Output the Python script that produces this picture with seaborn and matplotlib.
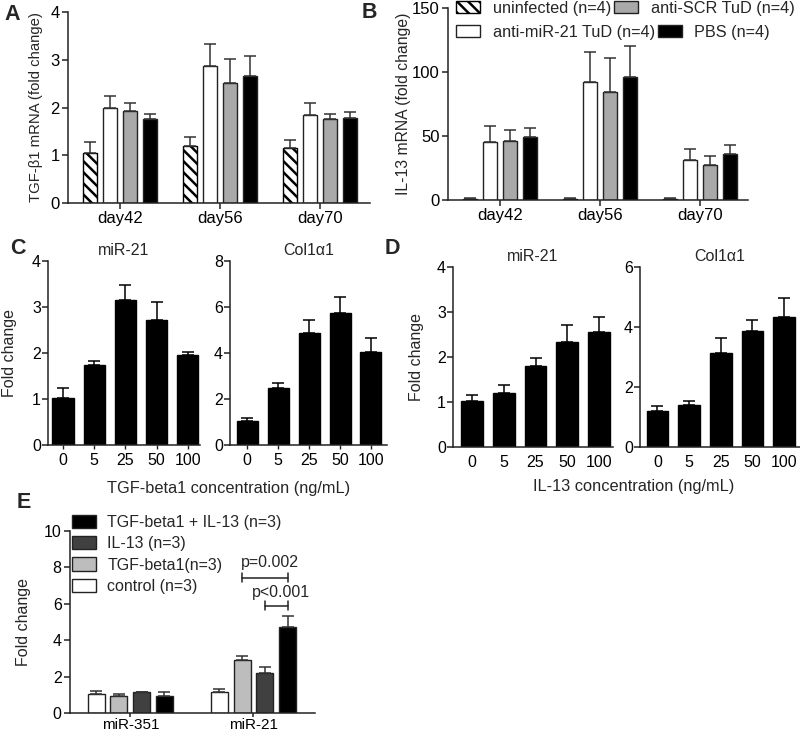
import numpy as np
import pandas as pd
import seaborn as sns
import matplotlib
matplotlib.use("Agg")
import matplotlib.pyplot as plt
from matplotlib.patches import Patch
from matplotlib.container import BarContainer

# ---- data ----
days = ["day42", "day56", "day70"]
mouse_groups = ["uninfected (n=4)", "anti-miR-21 TuD (n=4)", "anti-SCR TuD (n=4)", "PBS (n=4)"]
mouse_colors = ["white", "white", "#a9a9a9", "black"]

# A: TGF-beta1 mRNA, one row per group (day42, day56, day70)
tgf_mean = [[1.05, 1.20, 1.15], [2.00, 2.87, 1.85], [1.92, 2.52, 1.75], [1.75, 2.65, 1.78]]
tgf_err = [[0.22, 0.19, 0.17], [0.25, 0.45, 0.25], [0.18, 0.50, 0.11], [0.11, 0.42, 0.12]]

# B: IL-13 mRNA
il13_mean = [[1.0, 1.0, 1.0], [45, 92, 31], [46, 84, 27], [49, 96, 36]]
il13_err = [[0.4, 0.4, 0.4], [13, 24, 9], [9, 27, 7], [7, 24, 7]]

# C / D: dose response
conc = ["0", "5", "25", "50", "100"]
c_mir21 = [1.03, 1.75, 3.15, 2.72, 1.95]
c_mir21_err = [0.20, 0.07, 0.32, 0.38, 0.08]
c_col1 = [1.05, 2.50, 4.85, 5.75, 4.05]
c_col1_err = [0.12, 0.20, 0.60, 0.68, 0.60]
d_mir21 = [1.03, 1.20, 1.80, 2.34, 2.55]
d_mir21_err = [0.13, 0.18, 0.17, 0.38, 0.33]
d_col1 = [1.20, 1.40, 3.12, 3.88, 4.32]
d_col1_err = [0.17, 0.15, 0.50, 0.35, 0.65]

# E
e_genes = ["miR-351", "miR-21"]
e_groups = ["control (n=3)", "TGF-beta1(n=3)", "IL-13 (n=3)", "TGF-beta1 + IL-13 (n=3)"]
e_colors = ["white", "#bdbdbd", "#404040", "black"]
e_mean = [[1.05, 1.15], [0.95, 2.90], [1.13, 2.20], [0.95, 4.72]]
e_err = [[0.18, 0.15], [0.10, 0.25], [0.05, 0.35], [0.18, 0.62]]

sns.set_style("ticks")
plt.rcParams["font.family"] = ["Liberation Sans", "DejaVu Sans"]
plt.rcParams["font.size"] = 11.5
plt.rcParams["hatch.linewidth"] = 1.8
plt.rcParams["axes.linewidth"] = 1.1
plt.rcParams["axes.edgecolor"] = "#222222"
plt.rcParams["xtick.color"] = "#222222"
plt.rcParams["ytick.color"] = "#222222"
plt.rcParams["xtick.labelcolor"] = "black"
plt.rcParams["ytick.labelcolor"] = "black"

fig = plt.figure(figsize=(8, 7.36), dpi=100)
W, H = 800, 736


def add_ax(left, right, bottom, top):
    return fig.add_axes([left / W, 1 - bottom / H, (right - left) / W, (bottom - top) / H])


def bar_groups(ax):
    # one BarContainer per hue level, bars sorted left to right
    return [sorted(c, key=lambda b: b.get_x()) for c in ax.containers if isinstance(c, BarContainer)]


def grouped(ax, cats, groups, colors, means, errs, width=0.8, gap=0.3, capsize=4):
    df = pd.DataFrame({
        "cat": [c for g in groups for c in cats],
        "grp": [g for g in groups for c in cats],
        "val": [v for row in means for v in row],
    })
    sns.barplot(data=df, x="cat", y="val", hue="grp", order=cats, hue_order=groups,
                palette=dict(zip(groups, colors)), saturation=1, width=width, gap=gap,
                edgecolor="#222222", linewidth=1, errorbar=None, legend=False, ax=ax)
    for bars, err in zip(bar_groups(ax), errs):
        xs = [b.get_x() + b.get_width() / 2 for b in bars]
        ys = [b.get_height() for b in bars]
        ax.errorbar(xs, ys, yerr=[np.zeros(len(err)), err], fmt="none", ecolor="#333333",
                    elinewidth=1.1, capsize=capsize, capthick=1.1, zorder=1)


def single(ax, vals, errs, ymax, step, title, xticks=True):
    sns.barplot(x=conc, y=vals, order=conc, color="black", saturation=1, width=0.68,
                edgecolor="black", errorbar=None, ax=ax)
    bars = bar_groups(ax)[0]
    xs = [b.get_x() + b.get_width() / 2 for b in bars]
    ax.errorbar(xs, vals, yerr=[np.zeros(len(errs)), errs], fmt="none", ecolor="black",
                elinewidth=1.1, capsize=4, capthick=1.1, zorder=1)
    ax.set_ylim(0, ymax)
    ax.set_yticks(np.arange(0, ymax + 0.01, step))
    ax.set_title(title, fontsize=11.5, pad=4)
    ax.set_xlabel("")
    ax.set_ylabel("")
    if xticks:
        ax.tick_params(axis="x", length=3, width=1, pad=3)
    else:
        ax.tick_params(axis="x", length=0, pad=6)
    ax.tick_params(axis="y", length=4, width=1.1, pad=1)
    ax.tick_params(labelsize=11.5)
    sns.despine(ax=ax)


# ---- A ----
axA = add_ax(68, 370, 203, 12)
grouped(axA, days, mouse_groups, mouse_colors, tgf_mean, tgf_err)
for b in bar_groups(axA)[0]:
    b.set_hatch("\\\\\\")
    b.set_edgecolor("black")
axA.set_xlim(-0.52, 2.5)
axA.set_ylim(0, 4)
axA.set_yticks([0, 1, 2, 3, 4])
axA.set_xlabel("")
axA.set_ylabel("TGF-\u03b21 mRNA (fold change)", fontsize=10.7)
axA.yaxis.set_label_coords(-0.083, 0.5)
axA.tick_params(length=4, width=1.1, pad=2, labelsize=12)
sns.despine(ax=axA)

# ---- B ----
axB = add_ax(448, 748, 200, 8)
grouped(axB, days, mouse_groups, mouse_colors, il13_mean, il13_err)
for b in bar_groups(axB)[0]:
    b.set_hatch("\\\\\\")
    b.set_edgecolor("black")
axB.set_xlim(-0.52, 2.48)
axB.set_ylim(0, 150)
axB.set_yticks([0, 50, 100, 150])
axB.set_xlabel("")
axB.set_ylabel("IL-13 mRNA (fold change)", fontsize=11.3)
axB.yaxis.set_label_coords(-0.123, 0.5)
axB.tick_params(length=4, width=1.1, pad=2, labelsize=12)
sns.despine(ax=axB)

handles = [Patch(facecolor=c, edgecolor="black" if i == 0 else "#222222",
                 hatch="\\\\\\" if i == 0 else None, linewidth=1)
           for i, c in enumerate(mouse_colors)]
leg_kw = dict(ncol=2, frameon=False, handlelength=1.45, handleheight=0.8, handletextpad=0.8,
              columnspacing=0.2, borderpad=0, borderaxespad=0, loc="center left",
              bbox_transform=fig.transFigure, fontsize=11.7)
leg1 = axB.legend([handles[0], handles[2]], [mouse_groups[0], mouse_groups[2]],
                  bbox_to_anchor=(456 / W, 1 - 8 / H), **leg_kw)
axB.add_artist(leg1)
axB.legend([handles[1], handles[3]], [mouse_groups[1], mouse_groups[3]],
           bbox_to_anchor=(456 / W, 1 - 32 / H), **leg_kw)

# ---- C ----
axC1 = add_ax(48, 200, 445, 261)
single(axC1, c_mir21, c_mir21_err, 4, 1, "miR-21")
axC1.set_xlim(-0.48, 4.39)
axC1.set_ylabel("Fold change", fontsize=11.5)
axC1.yaxis.set_label_coords(-0.204, 0.5)
axC2 = add_ax(230, 387, 445, 261)
single(axC2, c_col1, c_col1_err, 8, 2, "Col1\u03b11")
axC2.set_xlim(-0.56, 4.52)
fig.text(229 / W, 1 - 489 / H, "TGF-beta1 concentration (ng/mL)", ha="center", va="center", fontsize=11.8)

# ---- D ----
axD1 = add_ax(453, 613, 447, 267)
single(axD1, d_mir21, d_mir21_err, 4, 1, "miR-21", xticks=False)
axD1.set_xlim(-0.6, 4.44)
axD1.set_ylabel("Fold change", fontsize=11.5)
axD1.yaxis.set_label_coords(-0.18, 0.5)
axD2 = add_ax(640, 800, 447, 267)
single(axD2, d_col1, d_col1_err, 6, 2, "Col1\u03b11", xticks=False)
axD2.set_xlim(-0.55, 4.5)
fig.text(634 / W, 1 - 487 / H, "IL-13 concentration (ng/mL)", ha="center", va="center", fontsize=11.8)

# ---- E ----
axE = add_ax(70, 315, 713, 531)
grouped(axE, e_genes, e_groups, e_colors, e_mean, e_err, width=0.74, gap=0.25)
axE.set_xlim(-0.49, 1.5)
axE.set_ylim(0, 10)
axE.set_yticks([0, 2, 4, 6, 8, 10])
axE.set_xlabel("")
axE.set_ylabel("Fold change", fontsize=11.5)
axE.yaxis.set_label_coords(-0.16, 0.5)
axE.tick_params(length=4, width=1.1, pad=2, labelsize=11.5)
axE.tick_params(axis="x", length=3, pad=0.5, labelsize=11)
sns.despine(ax=axE)

e_handles = [Patch(facecolor=c, edgecolor="#222222", linewidth=1) for c in e_colors]
axE.legend(e_handles[::-1], e_groups[::-1], frameon=False, loc="upper left",
           bbox_to_anchor=(72 / W, 1 - 515 / H), bbox_transform=fig.transFigure,
           handlelength=1.5, handleheight=0.9, handletextpad=0.7, labelspacing=0.38,
           borderpad=0, borderaxespad=0, fontsize=11.5)


def bracket(ax, b1, b2, y, label, ty):
    x1 = b1.get_x() + b1.get_width() / 2
    x2 = b2.get_x() + b2.get_width() / 2
    ax.plot([x1, x2], [y, y], color="#222222", lw=1.1)
    for x in (x1, x2):
        ax.plot([x, x], [y - 0.25, y + 0.25], color="#222222", lw=1.1)
    ax.text((x1 + x2) / 2 + 0.04, ty, label, ha="center", va="center", fontsize=11.5)


mir21_bars = [bars[1] for bars in bar_groups(axE)]
bracket(axE, mir21_bars[1], mir21_bars[3], 7.43, "p=0.002", 8.25)
bracket(axE, mir21_bars[2], mir21_bars[3], 5.9, "p<0.001", 6.6)

# panel letters
for letter, x, y in [("A", 12, 15), ("B", 369, 13), ("C", 18, 249), ("D", 392, 249), ("E", 24, 503)]:
    fig.text(x / W, 1 - y / H, letter, fontsize=15.5, fontweight="bold", ha="center", va="center")

fig.savefig("out.png", dpi=100)
